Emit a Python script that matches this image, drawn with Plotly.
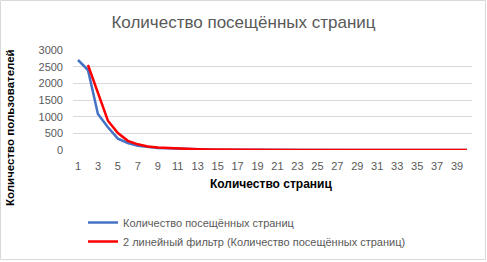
import plotly.graph_objects as go

pages = list(range(1, 41))
visits = [2700, 2400, 1080, 680, 340, 210, 130, 85, 60, 50,
          35, 25, 18, 12, 9, 7, 5, 4, 3, 3,
          2, 2, 2, 1, 1, 1, 1, 1, 1, 1,
          1, 1, 0, 0, 0, 0, 0, 0, 0, 0]
ma_pages = list(range(2, 41))
ma_values = [2550, 1740, 880, 510, 275, 170, 108, 73, 55, 43,
             30, 22, 15, 11, 8, 6, 5, 4, 3, 3,
             2, 2, 2, 1, 1, 1, 1, 1, 1, 1,
             1, 1, 0, 0, 0, 0, 0, 0, 0]
x_ticks = list(range(1, 41, 2))
y_ticks = [0, 500, 1000, 1500, 2000, 2500, 3000]

gray = "#595959"
font = "Liberation Sans"

fig = go.Figure()
fig.add_trace(go.Scatter(x=pages, y=visits, mode="lines",
                         name="Количество посещённых страниц",
                         line=dict(color="#4472C4", width=2.5)))
fig.add_trace(go.Scatter(x=ma_pages, y=ma_values, mode="lines",
                         name="2 линейный фильтр (Количество посещённых страниц)",
                         line=dict(color="#FF0000", width=2.5)))

L, R, T, B = 73, 15, 50, 112
W, H = 487, 262
pw, ph = W - L - R, H - T - B

def px_x(p):
    return (p - L) / pw

def px_y(p):
    return (T + ph - p) / ph

fig.update_layout(
    width=W, height=H,
    margin=dict(l=L, r=R, t=T, b=B, autoexpand=False),
    paper_bgcolor="white", plot_bgcolor="white",
    font=dict(family=font, size=11, color=gray),
    title=dict(text="Количество посещённых страниц", x=0.5, xanchor="center",
               y=1 - 22 / H, yanchor="middle",
               font=dict(family=font, size=17, color=gray)),
    xaxis=dict(range=[0.5, 40.5], tickmode="array", tickvals=x_ticks,
               ticktext=[str(v) for v in x_ticks], showgrid=False,
               zeroline=False, showline=False, ticks="",
               ticklabelstandoff=8, automargin=False,
               tickfont=dict(size=11, color=gray)),
    yaxis=dict(range=[0, 3000], tickmode="array", tickvals=y_ticks,
               showgrid=True, gridcolor="#d9d9d9", gridwidth=1,
               zeroline=False, showline=False, ticks="",
               ticklabelstandoff=9, automargin=False,
               tickfont=dict(size=11, color=gray)),
    legend=dict(x=px_x(83), y=px_y(208), xanchor="left", yanchor="top",
                font=dict(size=11, color=gray), tracegroupgap=6,
                bgcolor="rgba(0,0,0,0)"),
    showlegend=True,
    annotations=[
        dict(text="<b>Количество страниц</b>", xref="paper", yref="paper",
             x=px_x(271), y=px_y(184), xanchor="center", yanchor="middle",
             showarrow=False, font=dict(size=12, color="black")),
        dict(text="<b>Количество пользователей</b>", xref="paper", yref="paper",
             x=px_x(10), y=px_y(128), xanchor="center", yanchor="middle",
             textangle=-90, showarrow=False, font=dict(size=11.5, color="black")),
    ],
    shapes=[dict(type="rect", xref="paper", yref="paper",
                 x0=px_x(0.5), x1=px_x(485.5),
                 y0=px_y(259.5), y1=px_y(0.5),
                 line=dict(color="#d9d9d9", width=1))],
)

fig.write_html("out.html")
